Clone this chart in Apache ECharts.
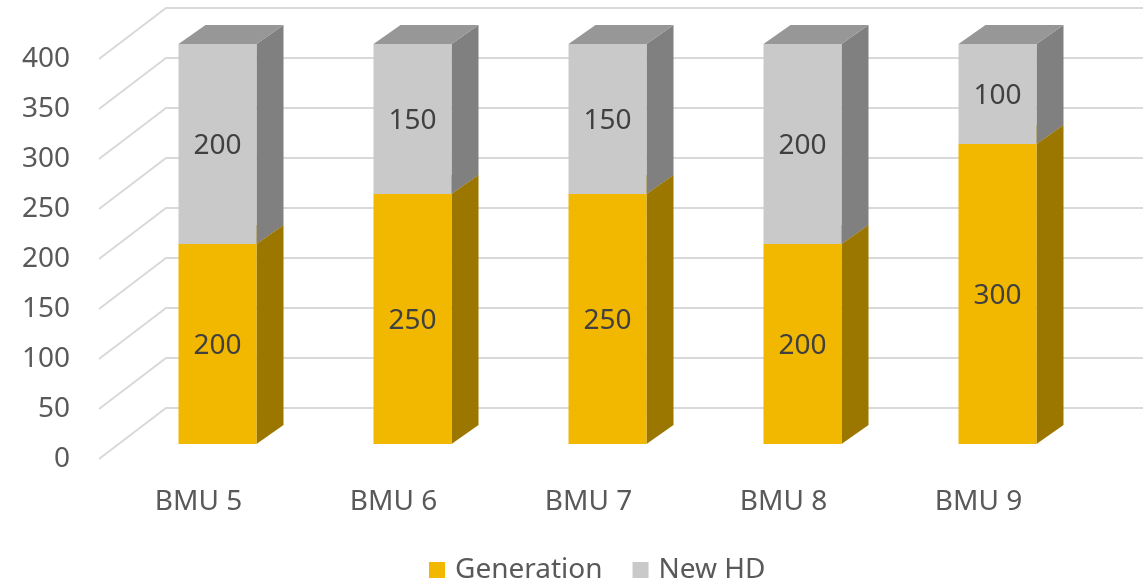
<!DOCTYPE html>
<html><head><meta charset="utf-8">
<script src="https://cdn.jsdelivr.net/npm/echarts@6/dist/echarts.min.js"></script>
<style>html,body{margin:0;padding:0;background:#fff}#c{width:1143px;height:581px}</style>
</head><body><div id="c"></div>
<script>
const categories = ['BMU 5', 'BMU 6', 'BMU 7', 'BMU 8', 'BMU 9'];
const generation = [200, 250, 250, 200, 300];
const newHD = [200, 150, 150, 200, 100];
const yTicks = [0, 50, 100, 150, 200, 250, 300, 350, 400];
const seriesNames = ['Generation', 'New HD'];

const FONT = 'Noto Sans';
const FS = 28;
const BAR_W = 78, FRONT_DX = 19, FRONT_DY = -15, DEPTH_DX = 27, DEPTH_DY = -19;
const WALL_DX = 67, WALL_DY = -51;

const palettes = {
  'Generation': { front: '#F2B800', side: '#9B7700', top: '#C99A00' },
  'New HD': { front: '#C9C9C9', side: '#808080', top: '#979797' }
};

function makeBarRender(bases, pal) {
  return function (params, api) {
    const i = api.value(0);
    const v = api.value(1);
    const base = bases[i];
    const pTop = api.coord([i, base + v]);
    const pBot = api.coord([i, base]);
    const xl = pTop[0] - BAR_W / 2 + FRONT_DX, xr = xl + BAR_W;
    const yt = pTop[1] + FRONT_DY, yb = pBot[1] + FRONT_DY;
    return {
      type: 'group',
      children: [
        { type: 'polygon', shape: { points: [[xr, yt], [xr + DEPTH_DX, yt + DEPTH_DY], [xr + DEPTH_DX, yb + DEPTH_DY], [xr, yb]] }, style: { fill: pal.side } },
        { type: 'polygon', shape: { points: [[xl, yt], [xr, yt], [xr + DEPTH_DX, yt + DEPTH_DY], [xl + DEPTH_DX, yt + DEPTH_DY]] }, style: { fill: pal.top } },
        { type: 'rect', shape: { x: xl, y: yt, width: BAR_W, height: yb - yt }, style: { fill: pal.front } },
        { type: 'text', x: (xl + xr) / 2, y: (yt + yb) / 2 + 2, style: { text: String(v), fill: '#404040', font: FS + 'px "' + FONT + '"', align: 'center', verticalAlign: 'middle' } }
      ]
    };
  };
}

const zeros = generation.map(() => 0);

const option = {
  animation: false,
  backgroundColor: '#ffffff',
  textStyle: { fontFamily: FONT },
  grid: { left: 101, right: 67, top: 59, bottom: 122, containLabel: false },
  legend: {
    left: 429, top: 556, padding: 0,
    icon: 'rect', itemWidth: 16, itemHeight: 16, itemGap: 30,
    textStyle: { fontSize: FS, color: '#595959', fontFamily: FONT, padding: [0, 0, 0, 5] },
    data: seriesNames
  },
  xAxis: {
    type: 'category', data: categories,
    axisLine: { show: false }, axisTick: { show: false }, splitLine: { show: false },
    axisLabel: { fontSize: FS, color: '#595959', fontFamily: FONT, margin: 29 }
  },
  yAxis: {
    type: 'value', min: 0, max: 400, interval: 50,
    axisLine: { show: false }, axisTick: { show: false }, splitLine: { show: false },
    axisLabel: { fontSize: FS, color: '#595959', fontFamily: FONT, margin: 31, padding: [10, 0, 0, 0] }
  },
  series: [
    {
      type: 'custom', name: '_grid', silent: true, z: 1,
      data: yTicks.map(v => [0, v]),
      encode: { x: 0, y: 1 },
      renderItem: function (params, api) {
        const p = api.coord([0, api.value(1)]);
        const cs = params.coordSys;
        const x0 = cs.x - 2, y0 = p[1];
        return {
          type: 'polyline',
          shape: { points: [[x0, y0], [x0 + WALL_DX, y0 + WALL_DY], [1143, y0 + WALL_DY]] },
          style: { stroke: '#D9D9D9', lineWidth: 2, fill: null }
        };
      }
    },
    {
      type: 'custom', name: 'Generation', z: 2,
      itemStyle: { color: palettes['Generation'].front },
      data: generation.map((v, i) => [i, v]),
      encode: { x: 0, y: 1 },
      renderItem: makeBarRender(zeros, palettes['Generation'])
    },
    {
      type: 'custom', name: 'New HD', z: 3,
      itemStyle: { color: palettes['New HD'].front },
      data: newHD.map((v, i) => [i, v]),
      encode: { x: 0, y: 1 },
      renderItem: makeBarRender(generation, palettes['New HD'])
    }
  ]
};

const chart = echarts.init(document.getElementById('c'));
chart.setOption(option);
</script>
</body></html>
